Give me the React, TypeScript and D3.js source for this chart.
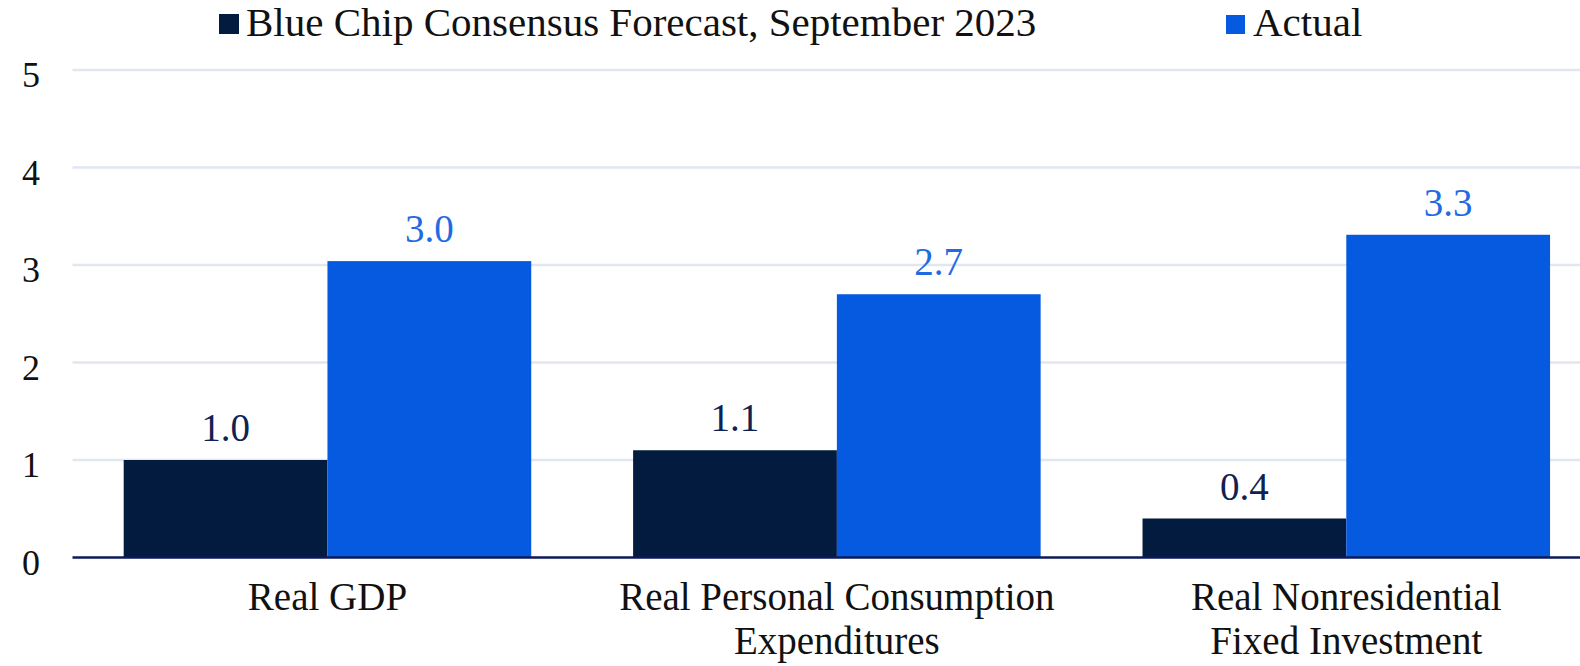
import React from 'react';
import * as d3 from 'd3';

const categories = ['Real GDP', 'Real Personal Consumption\nExpenditures', 'Real Nonresidential\nFixed Investment'];
const seriesNames = ['Blue Chip Consensus Forecast, September 2023', 'Actual'];
const forecast = [1.0, 1.1, 0.4];
const actual = [3.04, 2.7, 3.31];
const yTicks = [0, 1, 2, 3, 4, 5];

const colors = ['#021b3e', '#055ae0'];
const labelColors = ['#0f2252', '#1f6be3'];
const FONT = "Georgia, 'Liberation Serif', serif";

const width = 1580;
const height = 666;

export default function App() {
    const series = [forecast, actual];

    const x0 = d3.scaleBand<string>()
        .domain(categories)
        .range([72.75, 1601])
        .paddingInner(0.2)
        .paddingOuter(0.1);

    const x1 = d3.scaleBand<number>()
        .domain(d3.range(series.length))
        .range([0, x0.bandwidth()]);

    const y = d3.scaleLinear().domain([0, 5]).range([557.5, 70]);
    const fmt = d3.format('.1f');

    return (
        <svg width={width} height={height} style={{ position: 'absolute', left: 0, top: 0, background: '#fff' }}
            fontFamily={FONT}>
            {/* gridlines */}
            {yTicks.filter(t => t > 0).map(t => (
                <line key={t} x1={72.5} x2={width} y1={y(t)} y2={y(t)} stroke="#e2e6f0" strokeWidth={2.5} />
            ))}
            {yTicks.map(t => (
                <text key={t} x={31} y={y(t) + 5} textAnchor="middle" dominantBaseline="central"
                    fontSize={36} fill="#111">{t}</text>
            ))}

            {/* bars */}
            {categories.map((c, i) => (
                <g key={c} transform={`translate(${x0(c)},0)`}>
                    {series.map((s, j) => (
                        <g key={j}>
                            <rect x={x1(j)} width={x1.bandwidth()} y={y(s[i])} height={y(0) - y(s[i])} fill={colors[j]} />
                            <text x={x1(j)! + x1.bandwidth() / 2} y={y(s[i]) - 19} textAnchor="middle"
                                fontSize={39} fill={labelColors[j]}>{fmt(s[i])}</text>
                        </g>
                    ))}
                </g>
            ))}

            {/* zero axis */}
            <line x1={72.5} x2={width} y1={y(0)} y2={y(0)} stroke="#0c1a5a" strokeWidth={2.5} />

            {/* category labels, one text per line */}
            {categories.map(c => c.split('\n').map((line, k) => (
                <text key={c + k} x={x0(c)! + x0.bandwidth() / 2} y={610 + k * 43.5} textAnchor="middle"
                    fontSize={39} fill="#111">{line}</text>
            )))}

            {/* legend */}
            <g>
                <rect x={219} y={14} width={20} height={20} fill={colors[0]} />
                <text x={246} y={36} fontSize={41} fill="#111">{seriesNames[0]}</text>
                <rect x={1226} y={15} width={19} height={19} fill={colors[1]} />
                <text x={1253} y={36} fontSize={41} fill="#111">{seriesNames[1]}</text>
            </g>
        </svg>
    );
}
